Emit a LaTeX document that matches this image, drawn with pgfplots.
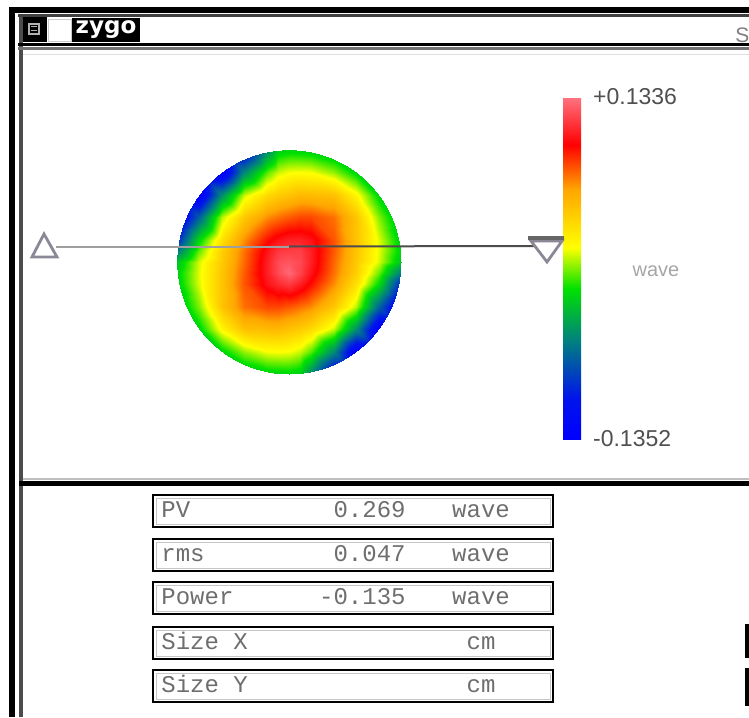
\documentclass[border=0pt]{standalone}
\usepackage{pgfplots}
\pgfplotsset{compat=1.18}
\usepackage{fontspec}
\setmainfont{Liberation Sans}
\newfontfamily\monofont{Liberation Mono}
\newfontfamily\logofont{DejaVu Sans}
\definecolor{txtgray}{RGB}{110,110,110}
\definecolor{lblgray}{RGB}{80,80,80}
\definecolor{trigray}{RGB}{140,135,150}
\pgfplotsset{colormap={zygo}{rgb255(0pt)=(0,0,255) rgb255(12pt)=(0,20,235) rgb255(29pt)=(0,130,125) rgb255(44pt)=(0,225,0) rgb255(56pt)=(255,255,0) rgb255(73pt)=(255,165,0) rgb255(86pt)=(255,0,0) rgb255(100pt)=(255,115,130)}}
\begin{document}
\begin{tikzpicture}[x=0.5pt,y=-0.5pt]
\useasboundingbox (0,0) rectangle (749,717);
\clip (0,0) rectangle (749,717);
% outer frame
\fill[black] (9,7) rectangle (749,13);
\fill[black] (9,7) rectangle (15,717);
\fill[black!75] (18,14) rectangle (749,17);
\fill[black!70] (19,17) rectangle (23,717);
% title bar
\fill[black] (23,17) rectangle (47,42);
\draw[gray!60, line width=0.6pt] (29,24) rectangle (39,34);
\draw[gray!60, line width=0.5pt] (31,27)--(37,27) (31,31)--(37,31);
\draw[gray!40, line width=0.4pt] (48,19) rectangle (71,41);
\fill[black] (72,18) rectangle (140,42);
\node[text=white, font=\logofont\bfseries\fontsize{11.5}{11.5}\selectfont] at (106,30) {zygo};
\node[text=gray, font=\fontsize{10.5}{10.5}\selectfont, anchor=west, inner sep=0pt] at (735,35) {S};
\fill[black] (18,43) rectangle (749,46);
\fill[black!55] (18,47) rectangle (749,50);
\fill[gray!25] (23,54) rectangle (749,55);
% separator
\fill[gray!50] (23,478) rectangle (749,480);
\fill[black] (19,481) rectangle (749,486);

\begin{axis}[at={(144.5pt,-131pt)}, anchor=center, scale only axis,
  width=112pt, height=112pt, xmin=-1, xmax=1, ymin=-1, ymax=1,
  hide axis, colormap name=zygo,
  point meta min=-0.1352, point meta max=0.1336,
  colorbar,
  colorbar style={at={(parent axis.north east)}, anchor=north west,
    xshift=72.5pt, yshift=26.5pt, scale only axis, width=9pt, height=171pt,
    axis line style={draw=none},
    ytick={-0.1352,0.1336}, yticklabels={-0.1352,+0.1336},
    major tick length=0pt,
    yticklabel style={font=\fontsize{11.5}{11.5}\selectfont, text=lblgray, xshift=2.5pt}}]
\begin{scope}
\clip (axis cs:0,0) circle [radius=1];
\addplot[surf, shader=interp, mesh/cols=13, point meta=explicit] table[meta index=2] {
x y z
-1 -1 -0.080
-0.8 -1 -0.062
-0.6 -1 -0.047
-0.4 -1 -0.034
-0.2 -1 -0.025
-0.1 -1 -0.023
0 -1 -0.022
0.1 -1 -0.026
0.2 -1 -0.055
0.4 -1 -0.120
0.6 -1 -0.189
0.8 -1 -0.237
1 -1 -0.277
-1 -0.8 -0.062
-0.8 -0.8 -0.042
-0.6 -0.8 -0.022
-0.4 -0.8 0.001
-0.2 -0.8 0.014
-0.1 -0.8 0.015
0 -0.8 0.014
0.1 -0.8 0.008
0.2 -0.8 -0.007
0.4 -0.8 -0.055
0.6 -0.8 -0.139
0.8 -0.8 -0.209
1 -0.8 -0.252
-1 -0.6 -0.047
-0.8 -0.6 -0.022
-0.6 -0.6 0.020
-0.4 -0.6 0.047
-0.2 -0.6 0.050
-0.1 -0.6 0.051
0 -0.6 0.046
0.1 -0.6 0.042
0.2 -0.6 0.034
0.4 -0.6 0.008
0.6 -0.6 -0.051
0.8 -0.6 -0.151
1 -0.6 -0.218
-1 -0.4 -0.034
-0.8 -0.4 -0.001
-0.6 -0.4 0.045
-0.4 -0.4 0.072
-0.2 -0.4 0.081
-0.1 -0.4 0.081
0 -0.4 0.077
0.1 -0.4 0.072
0.2 -0.4 0.066
0.4 -0.4 0.043
0.6 -0.4 0.006
0.8 -0.4 -0.071
1 -0.4 -0.159
-1 -0.2 -0.025
-0.8 -0.2 0.011
-0.6 -0.2 0.046
-0.4 -0.2 0.078
-0.2 -0.2 0.102
-0.1 -0.2 0.110
0 -0.2 0.115
0.1 -0.2 0.106
0.2 -0.2 0.093
0.4 -0.2 0.066
0.6 -0.2 0.031
0.8 -0.2 -0.020
1 -0.2 -0.095
-1 -0.1 -0.023
-0.8 -0.1 0.012
-0.6 -0.1 0.045
-0.4 -0.1 0.077
-0.2 -0.1 0.106
-0.1 -0.1 0.120
0 -0.1 0.130
0.1 -0.1 0.118
0.2 -0.1 0.102
0.4 -0.1 0.072
0.6 -0.1 0.040
0.8 -0.1 -0.004
1 -0.1 -0.060
-1 0 -0.029
-0.8 0 0.010
-0.6 0 0.043
-0.4 0 0.074
-0.2 0 0.106
-0.1 0 0.120
0 0 0.124
0.1 0 0.120
0.2 0 0.106
0.4 0 0.074
0.6 0 0.043
0.8 0 0.010
1 0 -0.029
-1 0.1 -0.060
-0.8 0.1 -0.004
-0.6 0.1 0.040
-0.4 0.1 0.072
-0.2 0.1 0.102
-0.1 0.1 0.114
0 0.1 0.116
0.1 0.1 0.117
0.2 0.1 0.106
0.4 0.1 0.077
0.6 0.1 0.045
0.8 0.1 0.012
1 0.1 -0.023
-1 0.2 -0.095
-0.8 0.2 -0.020
-0.6 0.2 0.031
-0.4 0.2 0.066
-0.2 0.2 0.093
-0.1 0.2 0.102
0 0.2 0.107
0.1 0.2 0.107
0.2 0.2 0.102
0.4 0.2 0.078
0.6 0.2 0.046
0.8 0.2 0.011
1 0.2 -0.025
-1 0.4 -0.159
-0.8 0.4 -0.071
-0.6 0.4 0.006
-0.4 0.4 0.043
-0.2 0.4 0.066
-0.1 0.4 0.072
0 0.4 0.077
0.1 0.4 0.081
0.2 0.4 0.081
0.4 0.4 0.072
0.6 0.4 0.045
0.8 0.4 -0.001
1 0.4 -0.034
-1 0.6 -0.218
-0.8 0.6 -0.151
-0.6 0.6 -0.051
-0.4 0.6 0.008
-0.2 0.6 0.034
-0.1 0.6 0.042
0 0.6 0.046
0.1 0.6 0.051
0.2 0.6 0.050
0.4 0.6 0.047
0.6 0.6 0.020
0.8 0.6 -0.022
1 0.6 -0.047
-1 0.8 -0.252
-0.8 0.8 -0.209
-0.6 0.8 -0.139
-0.4 0.8 -0.055
-0.2 0.8 -0.007
-0.1 0.8 0.008
0 0.8 0.014
0.1 0.8 0.015
0.2 0.8 0.014
0.4 0.8 0.001
0.6 0.8 -0.022
0.8 0.8 -0.042
1 0.8 -0.062
-1 1 -0.277
-0.8 1 -0.237
-0.6 1 -0.189
-0.4 1 -0.120
-0.2 1 -0.055
-0.1 1 -0.026
0 1 -0.022
0.1 1 -0.023
0.2 1 -0.025
0.4 1 -0.034
0.6 1 -0.047
0.8 1 -0.062
1 1 -0.080
};
\end{scope}
\end{axis}

% profile line and markers
\draw[gray!75, line width=1pt] (56,247) -- (289,247);
\draw[black!70, line width=1pt] (289,246.5) -- (538,246);
\draw[trigray, line width=1.4pt, fill=white] (44,234) -- (57,257) -- (32,257) -- cycle;
\draw[trigray, line width=1.4pt, fill=white] (531,241) -- (562,241) -- (547,262) -- cycle;
\draw[black!60, line width=1.8pt] (528,238) -- (564,238);
\node[text=gray!70, font=\fontsize{10}{10}\selectfont] at (656,271) {wave};

% value boxes
\foreach \yt/\lab/\val/\unit in {495/PV/0.269/wave, 539/rms/0.047/wave, 582/Power/-0.135/wave, 627/Size X//cm, 670/Size Y//cm}{
  \draw[black, line width=1.4pt] (153,\yt) rectangle (553,{\yt+32});
  \draw[gray!45, line width=0.4pt] (156,{\yt+3}) rectangle (550,{\yt+29});
  \node[anchor=west, font=\monofont\fontsize{12}{12}\selectfont, text=txtgray, text height=1.6ex, text depth=0.3ex, inner sep=0pt] at (161,{\yt+16}) {\lab};
  \node[anchor=east, font=\monofont\fontsize{12}{12}\selectfont, text=txtgray, text height=1.6ex, text depth=0.3ex, inner sep=0pt] at (406,{\yt+16}) {\val};
  \node[font=\monofont\fontsize{12}{12}\selectfont, text=txtgray, text height=1.6ex, text depth=0.3ex, inner sep=0pt] at (481,{\yt+16}) {\unit};
}
\fill[black] (745,624) rectangle (749,658);
\fill[black] (745,668) rectangle (749,706);
\end{tikzpicture}
\end{document}
